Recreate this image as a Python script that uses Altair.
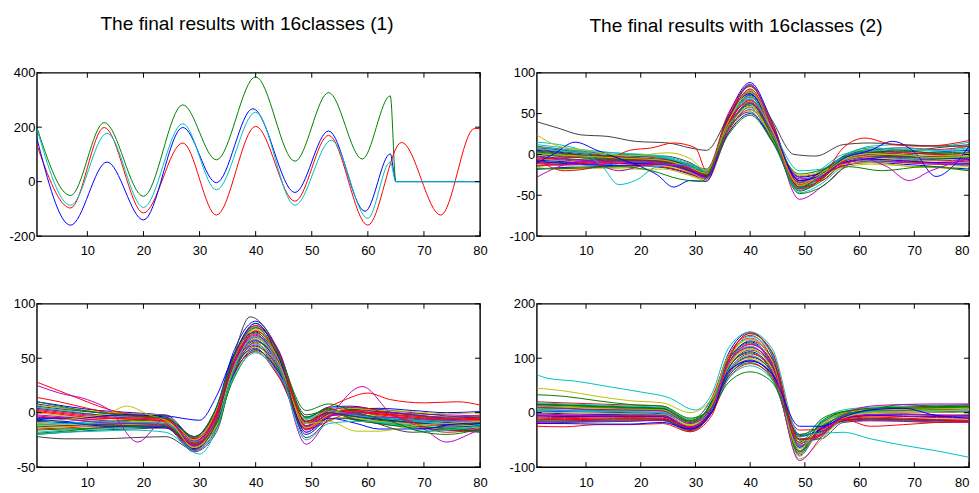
import altair as alt
import pandas as pd

# MATLAB (pre-2014) default line colours and their cycling order
COLORS = {"b": "#0000ff", "g": "#008000", "r": "#ff0000", "c": "#00bfbf",
          "m": "#bf00bf", "y": "#bfbf00", "k": "#404040"}
CYCLE = ["b", "g", "r", "c", "m", "y", "k"]

TITLE_1 = "The final results with 16classes (1)"
TITLE_2 = "The final results with 16classes (2)"
X_TICKS = [10, 20, 30, 40, 50, 60, 70, 80]

# ---------------- panel 1 (four class centres) ----------------
P1_Y_TICKS = [-200, 0, 200, 400]
P1_GREEN_X = [1, 7, 13, 20, 27, 33, 40, 47, 53, 59, 64, 65, 80]
P1_GREEN_Y = [200, -51, 217, -54, 282, 80, 385, 75, 327, 83, 315, 0, 0]
P1_RED_X = [1, 7, 13, 20, 27, 33, 40, 47, 53, 60, 66, 73, 79, 80]
P1_RED_Y = [135, -97, 199, -115, 142, -123, 203, -72, 170, -160, 144, -123, 195, 195]
P1_BLUE_X = [1, 7, 13.5, 20, 27, 33, 39.5, 47, 53, 59.5, 64, 65, 80]
P1_BLUE_Y = [159, -160, 72, -141, 199, -4, 268, -40, 186, -109, 102, 0, 0]
P1_CYAN_X = [1, 7, 13.5, 20, 27, 33, 40, 47, 53.5, 60, 64, 65, 80]
P1_CYAN_Y = [195, -87, 178, -95, 213, -30, 255, -87, 152, -135, 72, 0, 0]

# ---------------- panel 2 ----------------
P2_Y_TICKS = [-100, -50, 0, 50, 100]
P2_KNOTS = [1, 6, 12, 18, 24, 29, 32, 36, 40, 44, 49, 53, 57, 62, 68, 74, 80]
P2_BUNDLE = [
    [5, 2, -3, -6, -8, -15, -22, 48, 88, 40, -40, -28, -6, 2, 0, 3, 5],
    [-8, -10, -6, -4, -9, -20, -28, 44, 85, 36, -44, -33, -12, -5, -8, -6, -4],
    [10, 6, 2, -2, -5, -12, -18, 50, 83, 38, -36, -22, -3, 5, 8, 6, 10],
    [-15, -12, -14, -10, -12, -22, -30, 38, 80, 34, -47, -36, -15, -8, -10, -12, -14],
    [0, -3, -5, -8, -6, -16, -24, 44, 78, 30, -42, -26, -6, 0, -3, -2, 0],
    [-5, -8, -10, -12, -14, -25, -32, 36, 76, 32, -38, -30, -10, -4, -6, -8, -10],
    [8, 5, 0, -3, -2, -10, -20, 46, 75, 26, -45, -30, -5, 6, 4, 8, 12],
    [-18, -16, -15, -14, -16, -24, -30, 34, 73, 34, -32, -26, -14, -10, -12, -15, -18],
    [3, 0, -2, 0, -4, -14, -22, 42, 72, 24, -40, -24, -2, 8, 5, 2, 3],
    [-10, -12, -8, -6, -10, -18, -26, 38, 70, 30, -34, -32, -12, -6, -8, -10, -8],
    [12, 8, 4, 0, -3, -13, -20, 42, 68, 22, -44, -26, -4, 10, 12, 10, 15],
    [-3, -6, -8, -10, -12, -20, -27, 36, 67, 28, -36, -28, -8, -2, -4, -5, -6],
    [-12, -14, -16, -18, -18, -26, -32, 30, 65, 30, -30, -25, -16, -12, -14, -16, -20],
    [6, 3, -1, -5, -7, -15, -22, 40, 64, 22, -38, -20, -3, 4, 2, 0, 2],
    [-7, -9, -12, -11, -13, -20, -28, 34, 62, 26, -32, -27, -10, -5, -2, -4, -6],
    [2, -1, -4, -7, -9, -18, -25, 36, 60, 18, -42, -24, -5, 3, 0, -3, -2],
    [-14, -12, -10, -12, -15, -23, -30, 28, 58, 26, -27, -23, -14, -8, -10, -12, -12],
    [9, 6, 3, 1, -2, -11, -18, 36, 57, 16, -40, -18, 0, 6, 8, 5, 8],
    [-4, -7, -9, -8, -10, -18, -26, 30, 55, 22, -30, -25, -8, -3, -5, -7, -8],
    [-16, -18, -17, -15, -14, -22, -30, 26, 54, 24, -26, -21, -12, -10, -14, -16, -15],
    [4, 1, -2, -4, -6, -14, -20, 32, 52, 16, -34, -21, -4, 2, 4, 1, 0],
    [-9, -11, -13, -14, -12, -20, -27, 26, 50, 20, -28, -23, -10, -6, -8, -10, -11],
    [0, -2, -6, -9, -11, -17, -24, 24, 48, 18, -24, -19, -8, -2, -3, -5, -3],
    [-6, -4, -2, -5, -8, -17, -25, 38, 66, 26, -37, -29, -9, -1, 2, 0, -3],
    [7, 4, 1, -1, -4, -13, -21, 42, 71, 26, -42, -26, -4, 4, 6, 4, 6],
    [-11, -13, -11, -9, -11, -21, -29, 34, 63, 28, -35, -28, -11, -7, -9, -11, -13],
    [1, -1, -3, -5, -7, -16, -23, 34, 59, 20, -36, -23, -6, 1, -1, -2, 1],
    [-2, -5, -7, -7, -9, -19, -26, 42, 77, 32, -40, -31, -7, -1, -2, -3, -5],
]
P2_OUTLIERS = [
    ("k", [1, 5, 9, 14, 19, 25, 29, 32, 36, 40, 44, 48, 52, 57, 62, 70, 80],
          [40, 32, 24, 22, 16, 14, 8, 5, 46, 84, 42, 0, -2, 12, 14, 11, 10]),
    ("c", [1, 5, 9, 13, 16, 19, 23, 27, 32, 36, 40, 44, 49, 53, 57, 62, 70, 80],
          [15, 12, 5, -15, -37, -32, -15, -12, -20, 42, 68, 30, -20, -18, -5, -8, -5, -3]),
    ("b", [1, 4, 8, 12, 16, 20, 23, 26, 29, 32, 36, 40, 44, 49, 53, 57, 62, 66, 70, 74, 77, 80],
          [-10, 0, 15, 5, -5, -15, -25, -40, -32, -33, 44, 74, 32, -32, -25, -5, 5, 16, 3, -27, -15, 10]),
    ("m", [1, 5, 10, 16, 22, 28, 32, 36, 40, 44, 49, 54, 60, 65, 69, 73, 80],
          [-28, -15, -8, -20, -12, -14, -28, 44, 86, 34, -55, -35, -5, -15, -32, -20, -5]),
    ("r", [1, 6, 12, 18, 22, 26, 30, 32, 36, 40, 44, 49, 53, 57, 61, 66, 72, 80],
          [-5, -20, -15, 5, 8, 14, 8, -20, 42, 80, 32, -42, -30, 8, 20, 12, 10, 17]),
    ("y", [1, 5, 10, 18, 25, 29, 32, 36, 40, 44, 49, 53, 58, 66, 74, 80],
          [24, 10, 5, -2, 2, -5, -20, 40, 78, 30, -38, -25, -5, 0, -4, -2]),
    ("g", [1, 8, 16, 22, 27, 31, 36, 40, 44, 49, 53, 58, 64, 72, 80],
          [-18, -17, -15, -20, -30, -33, 32, 62, 22, -48, -40, -15, -20, -15, -20]),
]

# ---------------- panel 3 ----------------
P3_Y_TICKS = [-50, 0, 50, 100]
P3_KNOTS = [1, 6, 12, 18, 24, 29, 33, 36, 40, 44, 49, 53, 57, 62, 68, 74, 80]
P3_BUNDLE = [
    [10, 6, 2, 0, -3, -22, 5, 55, 84, 58, -5, 5, 6, 2, -2, -5, -6],
    [-5, -6, -8, -7, -9, -30, -5, 48, 82, 55, -12, -3, 2, -3, -6, -8, -10],
    [-15, -14, -12, -10, -10, -33, -10, 45, 80, 56, -15, -8, 0, -5, -8, -12, -12],
    [5, 2, -2, -4, -5, -26, 0, 50, 79, 50, -8, 4, 5, 0, -4, -6, -4],
    [-10, -12, -13, -11, -12, -35, -15, 40, 78, 58, -10, -3, -2, -6, -10, -13, -15],
    [0, -3, -5, -6, -7, -28, -3, 50, 76, 48, -18, -6, -4, -2, -3, -4, -2],
    [-20, -18, -16, -15, -14, -36, -18, 38, 75, 54, -2, 2, -6, -10, -14, -16, -18],
    [8, 4, 0, -2, -4, -24, 2, 52, 74, 44, -20, -4, 3, 4, 2, 0, 1],
    [-8, -9, -10, -10, -11, -32, -8, 44, 73, 50, -12, -2, -1, -6, -8, -10, -9],
    [-3, -5, -6, -4, -6, -27, -2, 46, 72, 44, -15, -3, 0, -1, -3, -6, -7],
    [-18, -16, -15, -14, -13, -34, -14, 36, 70, 52, -5, 4, -4, -8, -11, -14, -13],
    [3, 0, -3, -5, -6, -25, 0, 44, 69, 42, -16, -4, 2, 1, -1, -2, -3],
    [-12, -11, -9, -8, -9, -31, -12, 38, 68, 48, -8, 0, -3, -7, -9, -11, -12],
    [6, 3, 0, -1, -2, -22, 4, 45, 67, 40, -14, -2, 4, 3, 0, -3, -5],
    [-6, -8, -11, -12, -13, -33, -9, 40, 66, 46, -10, -1, -2, -5, -7, -9, -11],
    [-16, -15, -14, -12, -12, -30, -14, 34, 65, 48, -4, 3, -5, -9, -12, -15, -16],
    [2, -1, -4, -6, -7, -27, 1, 42, 64, 38, -15, -3, 1, -2, -5, -7, -6],
    [-9, -10, -10, -9, -10, -29, -6, 38, 63, 42, -9, 1, -3, -4, -7, -8, -8],
    [-2, -4, -7, -9, -10, -26, -4, 40, 62, 36, -13, -2, 0, 0, -2, -4, -3],
    [-14, -13, -12, -11, -12, -32, -12, 32, 60, 42, -6, 2, -4, -8, -10, -12, -14],
    [4, 1, -2, -3, -5, -23, 2, 40, 59, 34, -12, -1, 3, 1, -2, -5, -4],
    [-7, -9, -12, -13, -14, -30, -8, 34, 58, 38, -8, 0, -3, -6, -9, -11, -10],
    [-19, -17, -14, -13, -12, -28, -10, 30, 57, 40, -4, 4, -5, -10, -13, -14, -17],
    [1, -2, -5, -6, -8, -24, -2, 36, 56, 34, -10, 0, 2, -1, -4, -6, -5],
    [-11, -10, -8, -9, -10, -27, -6, 32, 55, 36, -6, 2, -2, -5, -8, -10, -11],
    [-4, -6, -9, -10, -12, -31, -7, 44, 71, 48, -12, -2, -1, -4, -5, -7, -8],
    [7, 4, 1, -1, -3, -25, 2, 50, 77, 50, -14, -2, 4, 2, 1, -1, 0],
    [-13, -12, -11, -12, -13, -29, -10, 36, 61, 42, -8, 0, -3, -7, -9, -12, -13],
]
P3_OUTLIERS = [
    ("r", [1, 4, 8, 12, 16, 20, 24, 29, 33, 36, 40, 44, 49, 53, 56, 60, 64, 70, 76, 80],
          [28, 22, 14, 6, 0, -3, -6, -28, 0, 50, 80, 56, -8, 5, 12, 18, 12, 9, 10, 7]),
    ("r", [1, 5, 10, 16, 22, 29, 33, 36, 40, 44, 49, 53, 58, 66, 74, 80],
          [14, 10, 4, -2, -4, -30, -5, 45, 75, 52, -10, 2, 5, -5, -18, -15]),
    ("m", [1, 5, 10, 14, 19, 24, 29, 33, 36, 40, 44, 49, 53, 59, 64, 70, 74, 78, 80],
          [25, 18, 12, 2, -27, -5, -30, -2, 45, 70, 46, -29, -5, 24, 0, -15, -27, -20, -15]),
    ("b", [1, 8, 16, 24, 28, 30, 33, 36, 40, 44, 49, 53, 58, 62, 70, 76, 80],
          [-5, -5, -2, -3, -6, -7, 15, 52, 82, 52, -18, -5, -10, -15, -15, -10, -12]),
    ("y", [1, 8, 14, 17, 21, 25, 29, 33, 36, 40, 44, 49, 53, 58, 62, 68, 74, 80],
          [-10, -5, 0, 6, -2, -10, -32, -8, 40, 70, 46, -10, -8, -17, -17, -12, -10, -8]),
    ("k", [1, 6, 12, 18, 24, 29, 33, 36, 39, 44, 49, 54, 60, 68, 74, 80],
          [-22, -24, -24, -23, -22, -34, -8, 50, 88, 56, -23, -5, -8, -18, -16, -17]),
    ("c", [1, 6, 12, 18, 24, 30, 33, 36, 40, 44, 49, 53, 58, 64, 70, 76, 80],
          [-20, -18, -17, -16, -18, -38, -15, 38, 70, 44, -25, -10, -8, -10, -17, -15, -12]),
    ("g", [1, 6, 12, 18, 24, 29, 33, 36, 40, 44, 49, 53, 58, 64, 70, 74, 80],
          [10, 5, 0, -3, -5, -22, 5, 50, 78, 54, 2, 8, 0, -8, -18, -20, -15]),
]

# ---------------- panel 4 ----------------
P4_Y_TICKS = [-100, 0, 100, 200]
P4_KNOTS = [1, 6, 12, 18, 24, 29, 33, 36, 40, 44, 49, 53, 57, 62, 68, 74, 80]
P4_BUNDLE = [
    [15, 14, 12, 10, 8, -20, 22, 108, 148, 105, -70, -30, -5, 5, 8, 10, 12],
    [-5, -6, -4, -3, -5, -30, 10, 100, 145, 110, -62, -40, -10, -5, -3, -5, -4],
    [20, 18, 16, 14, 12, -15, 28, 104, 142, 98, -78, -25, 0, 8, 10, 12, 15],
    [-15, -16, -15, -14, -15, -35, 5, 95, 140, 108, -55, -45, -15, -12, -14, -15, -16],
    [5, 4, 3, 2, 0, -25, 15, 100, 137, 96, -72, -28, -5, 2, 4, 6, 5],
    [10, 12, 10, 8, 5, -22, 18, 98, 135, 95, -66, -35, -2, 6, 8, 9, 10],
    [-20, -18, -17, -16, -14, -33, 2, 88, 132, 100, -50, -48, -18, -15, -16, -18, -17],
    [0, -2, -3, -2, -4, -28, 12, 96, 130, 90, -70, -25, -8, 0, 2, 1, 0],
    [12, 10, 9, 7, 6, -18, 20, 96, 128, 86, -75, -22, 2, 5, 6, 8, 9],
    [-10, -11, -10, -9, -10, -32, 6, 86, 125, 94, -55, -42, -12, -8, -10, -12, -11],
    [18, 16, 14, 12, 10, -12, 24, 92, 122, 82, -80, -18, 5, 10, 12, 14, 14],
    [-2, -4, -5, -6, -7, -28, 8, 86, 120, 86, -62, -32, -10, -3, -2, -4, -5],
    [8, 7, 5, 4, 3, -22, 14, 88, 118, 80, -70, -24, -3, 3, 5, 6, 7],
    [-12, -13, -12, -11, -12, -30, 4, 80, 115, 86, -48, -40, -14, -10, -12, -13, -14],
    [3, 2, 1, 0, -2, -25, 10, 82, 112, 78, -64, -28, -6, 0, 1, 2, 3],
    [14, 13, 11, 9, 7, -16, 16, 84, 110, 74, -72, -16, 0, 6, 7, 9, 11],
    [-8, -9, -8, -7, -8, -29, 5, 76, 108, 80, -50, -36, -11, -6, -7, -9, -8],
    [6, 5, 4, 2, 1, -20, 12, 78, 105, 72, -62, -20, -4, 2, 3, 4, 6],
    [-18, -17, -16, -15, -14, -31, 0, 70, 102, 76, -40, -35, -16, -14, -15, -17, -18],
    [1, 0, -1, -2, -3, -24, 8, 74, 100, 70, -56, -25, -7, -1, 0, 1, 0],
    [9, 8, 6, 5, 4, -18, 12, 72, 97, 66, -58, -18, -2, 4, 5, 6, 8],
    [-6, -7, -7, -6, -7, -27, 4, 66, 95, 70, -44, -30, -10, -5, -6, -7, -6],
    [16, 14, 12, 10, 8, -14, 14, 68, 92, 62, -54, -12, 2, 8, 10, 11, 12],
    [-14, -13, -12, -11, -11, -26, 0, 62, 90, 66, -32, -30, -13, -11, -12, -14, -15],
    [4, 3, 2, 1, 0, -20, 6, 62, 86, 60, -45, -15, -5, 1, 2, 3, 4],
    [-4, -5, -6, -5, -6, -27, 8, 90, 126, 92, -60, -38, -9, -4, -3, -5, -6],
    [11, 10, 8, 6, 5, -20, 14, 84, 117, 80, -66, -22, -1, 5, 6, 7, 8],
    [-16, -15, -14, -13, -13, -30, 2, 74, 103, 74, -42, -34, -15, -12, -13, -15, -16],
]
P4_OUTLIERS = [
    ("c", [1, 3, 8, 14, 20, 25, 30, 33, 36, 40, 44, 49, 53, 57, 62, 68, 74, 80],
          [70, 63, 58, 48, 38, 28, 5, 35, 118, 148, 118, -40, -38, -36, -48, -60, -70, -82]),
    ("y", P4_KNOTS, [45, 40, 30, 22, 18, 0, 25, 105, 135, 95, -85, -50, -10, 0, 2, 3, 5]),
    ("g", P4_KNOTS, [33, 30, 22, 15, 12, -10, 8, 55, 75, 56, -40, -25, -5, 5, 15, 12, 12]),
    ("r", P4_KNOTS, [-25, -26, -22, -22, -20, -35, -5, 95, 146, 112, -50, -40, -12, -25, -22, -18, -15]),
    ("b", P4_KNOTS, [-20, -20, -21, -21, -18, -30, 0, 76, 95, 72, -25, -25, -8, 5, 8, -5, -10]),
    ("m", P4_KNOTS, [10, 8, 5, 5, 3, -20, 10, 92, 120, 88, -88, -45, -5, 12, 15, 16, 16]),
]

# plain hyphen-minus tick labels (as in the reference), not the typographic minus
LABEL_EXPR = "datum.value < 0 ? '-' + (-datum.value) : '' + datum.value"


def frame_from(series):
    rows = []
    for sid, (ckey, xs, ys) in enumerate(series):
        for xv, yv in zip(xs, ys):
            rows.append({"sid": sid, "color": COLORS[ckey], "x": xv, "y": yv})
    return pd.DataFrame(rows)


def bundle_series(knots, bundle, outliers):
    series = [(CYCLE[i % len(CYCLE)], knots, ys) for i, ys in enumerate(bundle)]
    return series + list(outliers)


def panel(df, y_ticks, y_dom, w, h, flush, top_reserve, title=None, tx=0, ty=0):
    xs = alt.Scale(domain=[1, 80], nice=False, zero=False)
    ys = alt.Scale(domain=y_dom, nice=False, zero=False)
    xax = alt.Axis(values=X_TICKS, title=None, labelExpr=LABEL_EXPR, labelFlush=flush)
    yax = alt.Axis(values=y_ticks, title=None, labelExpr=LABEL_EXPR)
    X = lambda: alt.X("x:Q", scale=xs, axis=xax)
    Y = lambda: alt.Y("y:Q", scale=ys, axis=yax)

    lines = alt.Chart(df).mark_line(interpolate="monotone", strokeWidth=1, clip=True).encode(
        x=X(), y=Y(), color=alt.Color("color:N", scale=None), detail="sid:N")

    xt = pd.DataFrame({"x": X_TICKS})
    yt = pd.DataFrame({"y": y_ticks})
    tl = 5
    bot = alt.Chart(xt).mark_rule(color="black", strokeWidth=1).encode(
        x=X(), y=alt.value(h), y2=alt.value(h - tl))
    top = alt.Chart(xt).mark_rule(color="black", strokeWidth=1).encode(
        x=X(), y=alt.value(0), y2=alt.value(tl))
    left = alt.Chart(yt).mark_rule(color="black", strokeWidth=1).encode(
        y=Y(), x=alt.value(0), x2=alt.value(tl))
    right = alt.Chart(yt).mark_rule(color="black", strokeWidth=1).encode(
        y=Y(), x=alt.value(w), x2=alt.value(w - tl))

    # invisible marker that fixes how much room sits above the plot area
    spacer = alt.Chart(pd.DataFrame({"s": [0]})).mark_rule(
        strokeOpacity=0, strokeWidth=1).encode(
        x=alt.value(0), x2=alt.value(2), y=alt.value(-top_reserve))
    layers = [lines, bot, top, left, right, spacer]

    if title:
        ttl = alt.Chart(pd.DataFrame({"t": [title]})).mark_text(
            font="Liberation Sans", fontSize=19.2, color="#000", align="center",
            baseline="alphabetic").encode(
            text="t:N", x=alt.value(tx), y=alt.value(ty))
        layers.append(ttl)

    return alt.layer(*layers).properties(width=w, height=h)


p1_series = [("g", P1_GREEN_X, P1_GREEN_Y), ("r", P1_RED_X, P1_RED_Y),
             ("b", P1_BLUE_X, P1_BLUE_Y), ("c", P1_CYAN_X, P1_CYAN_Y)]
df1 = frame_from(p1_series)
df2 = frame_from(bundle_series(P2_KNOTS, P2_BUNDLE, P2_OUTLIERS))
df3 = frame_from(bundle_series(P3_KNOTS, P3_BUNDLE, P3_OUTLIERS))
df4 = frame_from(bundle_series(P4_KNOTS, P4_BUNDLE, P4_OUTLIERS))

c1 = panel(df1, P1_Y_TICKS, [-200, 400], 445, 164, False, 63, TITLE_1, 211, -42.7)
c2 = panel(df2, P2_Y_TICKS, [-100, 100], 434, 164, True, 63, TITLE_2, 200, -41)
c3 = panel(df3, P3_Y_TICKS, [-50, 100], 445, 164, False, 10)
c4 = panel(df4, P4_Y_TICKS, [-100, 200], 434, 164, True, 10)

chart = alt.vconcat(
    alt.hconcat(c1, c2, spacing=20),
    alt.hconcat(c3, c4, spacing=20),
    spacing=28,
).properties(padding=0).configure_view(
    stroke="black", strokeWidth=1.4
).configure_axis(
    grid=False, domain=False, ticks=False, labelFont="Liberation Sans",
    labelFontSize=13, labelColor="#000", labelOverlap=False,
    minExtent=28,
).configure_axisX(labelPadding=9).configure_axisY(labelPadding=2)

chart.save("out.html", embed_options={"renderer": "svg", "actions": False})
